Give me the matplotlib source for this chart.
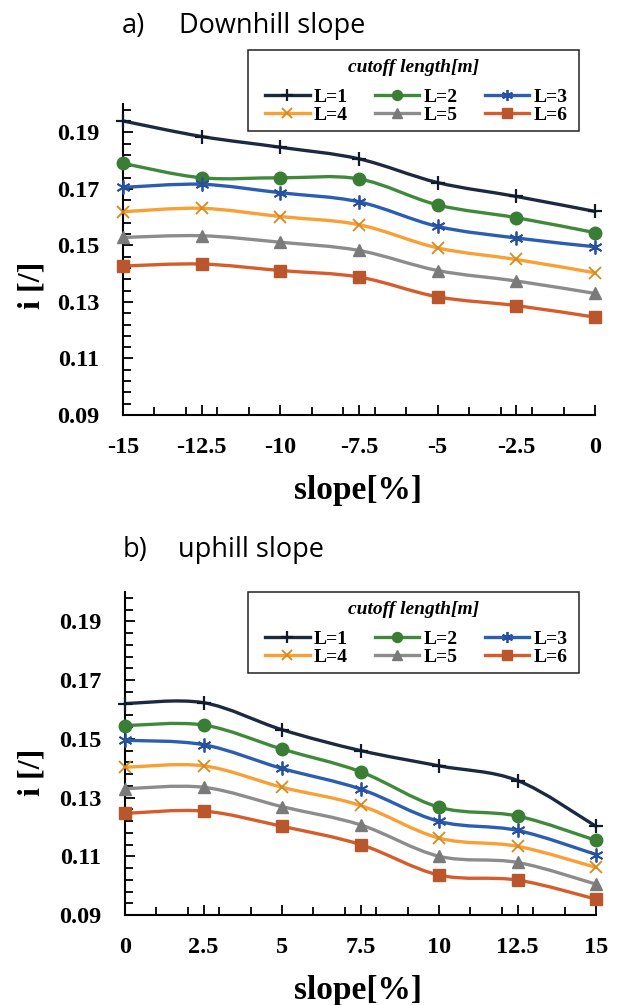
import numpy as np
import matplotlib
matplotlib.use('Agg')
import matplotlib.pyplot as plt
from matplotlib.path import Path
from matplotlib.patches import PathPatch, Rectangle
from matplotlib.lines import Line2D
from matplotlib.ticker import AutoMinorLocator, MultipleLocator

plt.rcParams['font.family'] = ['Liberation Serif', 'DejaVu Serif']
plt.rcParams['font.weight'] = 'bold'
plt.rcParams['axes.unicode_minus'] = False

# data
slope_down = [-15, -12.5, -10, -7.5, -5, -2.5, 0]
slope_up = [0, 2.5, 5, 7.5, 10, 12.5, 15]
xtick_down = ['-15', '-12.5', '-10', '-7.5', '-5', '-2.5', '0']
xtick_up = ['0', '2.5', '5', '7.5', '10', '12.5', '15']
yticks = [0.09, 0.11, 0.13, 0.15, 0.17, 0.19]
series_names = ['L=1', 'L=2', 'L=3', 'L=4', 'L=5', 'L=6']

down_L1 = [0.1940, 0.1885, 0.1847, 0.1806, 0.1722, 0.1673, 0.1620]
down_L2 = [0.1790, 0.1739, 0.1739, 0.1735, 0.1643, 0.1598, 0.1545]
down_L3 = [0.1705, 0.1716, 0.1686, 0.1654, 0.1567, 0.1526, 0.1495]
down_L4 = [0.1619, 0.1631, 0.1602, 0.1573, 0.1491, 0.1450, 0.1403]
down_L5 = [0.1528, 0.1534, 0.1511, 0.1482, 0.1411, 0.1374, 0.1330]
down_L6 = [0.1427, 0.1434, 0.1411, 0.1388, 0.1318, 0.1287, 0.1246]

up_L1 = [0.1620, 0.1623, 0.1531, 0.1460, 0.1408, 0.1358, 0.1202]
up_L2 = [0.1545, 0.1547, 0.1465, 0.1388, 0.1267, 0.1237, 0.1154]
up_L3 = [0.1495, 0.1480, 0.1399, 0.1329, 0.1219, 0.1188, 0.1106]
up_L4 = [0.1403, 0.1408, 0.1335, 0.1273, 0.1162, 0.1134, 0.1062]
up_L5 = [0.1330, 0.1335, 0.1269, 0.1207, 0.1100, 0.1079, 0.1005]
up_L6 = [0.1246, 0.1254, 0.1202, 0.1140, 0.1036, 0.1019, 0.0954]

down_all = [down_L1, down_L2, down_L3, down_L4, down_L5, down_L6]
up_all = [up_L1, up_L2, up_L3, up_L4, up_L5, up_L6]

# styles
line_colors = ['#1b2a41', '#3f8a3a', '#2b5db1', '#f8a036', '#8c8c8c', '#d75c2c']
mk_colors = ['#111a2a', '#3a7d35', '#27509e', '#d8891e', '#7a7a7a', '#b9562b']
markers = ['+', 'o', (6, 2, 0), 'x', '^', 's']
mk_size = [10, 9, 10, 9, 9, 9]
mk_edge = [1.6, 1, 1.3, 1.3, 1, 1]


def smooth_path(x, y):
    # Excel-style smoothed line (Catmull-Rom as cubic Bezier)
    p = np.column_stack([x, y]).astype(float)
    ext = np.vstack([p[0], p, p[-1]])
    verts = [p[0]]
    codes = [Path.MOVETO]
    for i in range(len(p) - 1):
        p0, p1, p2, p3 = ext[i], ext[i + 1], ext[i + 2], ext[i + 3]
        verts += [p1 + (p2 - p0) / 6, p2 - (p3 - p1) / 6, p2]
        codes += [Path.CURVE4] * 3
    return Path(verts, codes)


fig = plt.figure(figsize=(6.19, 10.05), dpi=100)
W, H = 619, 1005


def fx(px):
    return px / W


def fy(py):
    return 1 - py / H


ax1 = fig.add_axes([fx(123), fy(415), fx(595) - fx(123), fy(104) - fy(415)])
ax2 = fig.add_axes([fx(125), fy(915), fx(596) - fx(125), fy(592) - fy(915)])

panels = [(ax1, slope_down, down_all, xtick_down, (-15, 0)),
          (ax2, slope_up, up_all, xtick_up, (0, 15))]

for ax, xs, data, xlabels, xlim in panels:
    for k, ys in enumerate(data):
        ax.add_patch(PathPatch(smooth_path(xs, ys), facecolor='none',
                               edgecolor=line_colors[k], lw=2.4, zorder=2,
                               clip_on=False, capstyle='round'))
        ax.plot(xs, ys, linestyle='none', marker=markers[k], ms=mk_size[k],
                color=mk_colors[k], mec=mk_colors[k], mew=mk_edge[k],
                clip_on=False, zorder=3)
    ax.set_xlim(*xlim)
    ax.set_ylim(0.09, 0.2)
    ax.set_xticks(xs)
    ax.set_xticklabels(xlabels)
    ax.set_yticks(yticks)
    ax.set_yticklabels([f'{v:.2f}' for v in yticks])
    ax.xaxis.set_minor_locator(MultipleLocator(1))
    ax.yaxis.set_minor_locator(AutoMinorLocator(5))
    ax.tick_params(which='both', direction='in', width=1.3, colors='black')
    ax.tick_params(which='major', length=7)
    ax.tick_params(which='minor', length=6)
    ax.tick_params(axis='y', which='major', pad=17, labelsize=17.5)
    ax.tick_params(axis='x', which='major', pad=16, labelsize=17.5)
    for s in ['top', 'right']:
        ax.spines[s].set_visible(False)
    for s in ['left', 'bottom']:
        ax.spines[s].set_linewidth(1.5)
        ax.spines[s].set_color('black')

# titles
title_font = dict(family=['Open Sans', 'DejaVu Sans'], weight='normal', fontsize=19.5)
fig.text(fx(122), fy(33), 'a)', ha='left', va='baseline', **title_font)
fig.text(fx(179), fy(33), 'Downhill slope', ha='left', va='baseline', **title_font)
fig.text(fx(123), fy(557), 'b)', ha='left', va='baseline', **title_font)
fig.text(fx(178), fy(557), 'uphill slope', ha='left', va='baseline', **title_font)

# axis labels
for ycen, xl_y in [(285, 490), (772, 990)]:
    fig.text(fx(32), fy(ycen), 'i [/]', rotation=90, ha='center', va='center',
             fontsize=23, fontweight='bold')
    fig.text(fx(358), fy(xl_y), 'slope[%]', ha='center', va='center',
             fontsize=24, fontweight='bold')

# legends (box, title, entries)
handles = []
for k in range(6):
    handles.append(Line2D([], [], color=line_colors[k], lw=2.4, marker=markers[k],
                          ms=mk_size[k] * 0.8, mec=mk_colors[k], mfc=mk_colors[k],
                          mew=mk_edge[k]))
order = [0, 3, 1, 4, 2, 5]
for box_top in [50, 592]:
    fig.patches.append(Rectangle((fx(248), fy(box_top + 81)), fx(579) - fx(248),
                                 fy(box_top) - fy(box_top + 81), transform=fig.transFigure,
                                 facecolor='white', edgecolor='#222222', lw=1.1,
                                 zorder=5))
    fig.text(fx(414), fy(box_top + 17), 'cutoff length[m]', ha='center', va='center',
             fontsize=14, fontweight='bold', style='italic', zorder=6)
    leg = fig.legend([handles[i] for i in order], [series_names[i] for i in order],
                     loc='center', bbox_to_anchor=(fx(416), fy(box_top + 56)),
                     ncol=3, frameon=False, fontsize=14, handlelength=2.3,
                     handletextpad=0.2, columnspacing=1.4, labelspacing=0.05,
                     borderpad=0.1)
    leg.set_zorder(7)

fig.savefig('out.png', dpi=100)
